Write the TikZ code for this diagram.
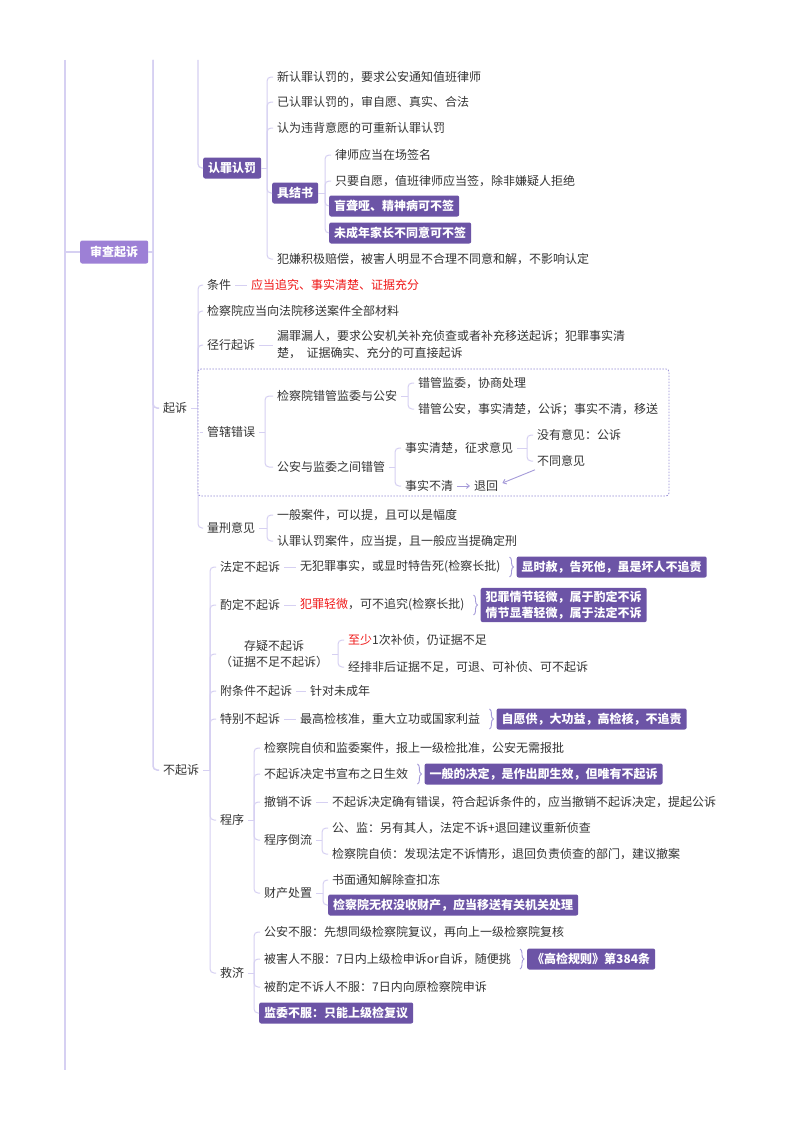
\documentclass[tikz,border=0pt]{standalone}
\usepackage{fontspec}
\setmainfont{Noto Sans CJK SC}
\usetikzlibrary{decorations.pathreplacing,arrows.meta,backgrounds}
\definecolor{lc}{RGB}{214,208,242}
\definecolor{dk}{RGB}{108,84,166}
\definecolor{lt}{RGB}{157,128,214}
\definecolor{tc}{RGB}{52,52,52}
\definecolor{rd}{RGB}{240,24,24}
\definecolor{dc}{RGB}{150,140,215}
\definecolor{ac}{RGB}{165,155,217}
\newcommand\myfs{\fontsize{12}{16}\selectfont}
\begin{document}
\begin{tikzpicture}[x=1pt,y=-1pt,
 tx/.style={anchor=west,inner xsep=4pt,inner ysep=1pt,xshift=-4pt,font=\myfs,text=tc},
 hbox/.style={anchor=west,fill=dk,text=white,font=\myfs\bfseries,rounded corners=2pt,inner xsep=5pt,inner ysep=2pt,minimum height=21pt},
 lnk/.style={draw=lc,line width=1pt},
 brk/.style={lnk,rounded corners=4pt},
 brc/.style={draw=ac,line width=0.9pt,decorate,decoration={brace,amplitude=4pt}},
 arw/.style={draw=ac,line width=0.9pt,-{Straight Barb[length=3pt,width=5pt]}},
 dbox/.style={draw=dc,line width=0.8pt,dash pattern=on 1.5pt off 1.5pt,rounded corners=3pt}
]
\useasboundingbox (0,0) rectangle (800,1132);

% ---------- nodes ----------
\node[hbox,fill=lt,inner xsep=10pt,minimum height=23pt] (sc) at (80,252) {审查起诉};
\node[tx] (qs) at (163,408) {起诉};
\node[tx] (bqs) at (163,770) {不起诉};

\node[hbox] (rz) at (203,168) {认罪认罚};
\node[tx] (r1) at (277,77) {新认罪认罚的，要求公安通知值班律师};
\node[tx] (r2) at (277,102) {已认罪认罚的，审自愿、真实、合法};
\node[tx] (r3) at (277,128) {认为违背意愿的可重新认罪认罚};
\node[hbox] (jj) at (272,193) {具结书};
\node[tx] (r5) at (277,259) {犯嫌积极赔偿，被害人明显不合理不同意和解，不影响认定};
\node[tx] (j1) at (335,155) {律师应当在场签名};
\node[tx] (j2) at (335,181) {只要自愿，值班律师应当签，除非嫌疑人拒绝};
\node[hbox] (j3) at (329,206) {盲聋哑、精神病可不签};
\node[hbox] (j4) at (329,233) {未成年家长不同意可不签};

\node[tx] (q1) at (207,285) {条件};
\node[tx,text=rd] (q1r) at (251,285) {应当追究、事实清楚、证据充分};
\node[tx] (q2) at (207,311) {检察院应当向法院移送案件全部材料};
\node[tx] (q3) at (207,345) {径行起诉};
\node[tx,align=left,font=\fontsize{12}{17}\selectfont] (q3r) at (277,345) {漏罪漏人，要求公安机关补充侦查或者补充移送起诉；犯罪事实清\\楚，\ \ 证据确实、充分的可直接起诉};
\node[tx] (q4) at (207,432) {管辖错误};
\node[tx] (q5) at (207,528) {量刑意见};
\node[tx] (g1) at (277,396) {检察院错管监委与公安};
\node[tx] (g2) at (277,467) {公安与监委之间错管};
\node[tx] (g11) at (418,383) {错管监委，协商处理};
\node[tx] (g12) at (418,409) {错管公安，事实清楚，公诉；事实不清，移送};
\node[tx] (g21) at (405,448) {事实清楚，征求意见};
\node[tx] (g22) at (405,486) {事实不清};
\node[tx] (g22r) at (474,486) {退回};
\node[tx] (g211) at (537,435) {没有意见：公诉};
\node[tx] (g212) at (537,461) {不同意见};
\node[tx] (l1) at (277,515) {一般案件，可以提，且可以是幅度};
\node[tx] (l2) at (277,541) {认罪认罚案件，应当提，且一般应当提确定刑};

\node[tx] (n1) at (220,567) {法定不起诉};
\node[tx] (n1r) at (300,567) {无犯罪事实，或显时特告死(检察长批)};
\node[hbox] (n1b) at ([xshift=12pt]n1r.east) {显时赦，告死他，虽是坏人不追责};
\node[tx] (n2) at (220,605) {酌定不起诉};
\node[tx] (n2r) at (300,605) {{\color{rd}犯罪轻微}，可不追究(检察长批)};
\node[hbox,align=left,inner ysep=3pt] (n2b) at ([xshift=12pt]n2r.east) {犯罪情节轻微，属于酌定不诉\\情节显著轻微，属于法定不诉};
\node[tx,align=center] (n3) at (220,654) {存疑不起诉\\（证据不足不起诉）};
\node[tx] (n31) at (348,640) {{\color{rd}至少}1次补侦，仍证据不足};
\node[tx] (n32) at (348,667) {经排非后证据不足，可退、可补侦、可不起诉};
\node[tx] (n4) at (220,691) {附条件不起诉};
\node[tx] (n4r) at (310,691) {针对未成年};
\node[tx] (n5) at (220,719) {特别不起诉};
\node[tx] (n5r) at (300,719) {最高检核准，重大立功或国家利益};
\node[hbox] (n5b) at ([xshift=12pt]n5r.east) {自愿供，大功益，高检核，不追责};
\node[tx] (n6) at (220,820) {程序};
\node[tx] (p1) at (264,748) {检察院自侦和监委案件，报上一级检批准，公安无需报批};
\node[tx] (p2) at (264,774) {不起诉决定书宣布之日生效};
\node[hbox] (p2b) at ([xshift=12pt]p2.east) {一般的决定，是作出即生效，但唯有不起诉};
\node[tx] (p3) at (264,802) {撤销不诉};
\node[tx] (p3r) at (332,802) {不起诉决定确有错误，符合起诉条件的，应当撤销不起诉决定，提起公诉};
\node[tx] (p4) at (264,840) {程序倒流};
\node[tx] (p41) at (332,828) {公、监：另有其人，法定不诉+退回建议重新侦查};
\node[tx] (p42) at (332,854) {检察院自侦：发现法定不诉情形，退回负责侦查的部门，建议撤案};
\node[tx] (p5) at (264,893) {财产处置};
\node[tx] (p51) at (332,880) {书面通知解除查扣冻};
\node[hbox] (p52) at (328,905) {检察院无权没收财产，应当移送有关机关处理};
\node[tx] (n7) at (220,973) {救济};
\node[tx] (s1) at (264,932) {公安不服：先想同级检察院复议，再向上一级检察院复核};
\node[tx] (s2) at (264,959) {被害人不服：7日内上级检申诉or自诉，随便挑};
\node[hbox] (s2b) at ([xshift=12pt]s2.east) {《高检规则》第384条};
\node[tx] (s3) at (264,987) {被酌定不诉人不服：7日内向原检察院申诉};
\node[hbox] (s4) at (259,1013) {监委不服：只能上级检复议};

% ---------- bracket coordinates ----------
\coordinate (topA) at (65,60);
\coordinate (botA) at (65,1070);
\coordinate (topB) at (153,60);
\coordinate (topC) at (198,60);
\coordinate (rzb) at (267,0);
\coordinate (jjb) at (325,0);
\coordinate (qsb) at (198,0);
\coordinate (gxb) at (265,0);
\coordinate (g1b) at (408,0);
\coordinate (g2b) at (395,0);
\coordinate (g21b) at (527,0);
\coordinate (lxb) at (267,0);
\coordinate (bqb) at (210,0);
\coordinate (n3b) at (338,0);
\coordinate (n6b) at (254,0);
\coordinate (p4b) at (322,0);
\coordinate (p5b) at (323,0);
\coordinate (n7b) at (254,0);

% ---------- background: 起诉 bracket and dashed frame ----------
\begin{scope}[on background layer]
\fill[white] (0,0) rectangle (800,1132);
\draw[lnk] (qs.east) -- (qs.east -| qsb);
\foreach \c in {q1,q2,q3,q4,q5} \draw[brk] (qs.east -| qsb) |- (\c.west);
\draw[dbox,fill=white] (198,369) rectangle (669,496);
\end{scope}
\draw[lnk] (q4.west -| qsb) ++(1.5,0) -- (q4.west);

% ---------- main connectors ----------
\draw[lnk,line width=2pt] (topA) -- (botA);
\draw[lnk,line width=1.5pt] (sc.west -| topA) -- (sc.west);
\draw[lnk,line width=1.5pt] (sc.east) -- (sc.east -| topB);
\draw[brk,line width=1.5pt] (topB) |- (qs.west);
\draw[brk,line width=1.5pt] (topB) |- (bqs.west);
\draw[brk,line width=1.2pt] (topC) |- (rz.west);

% 认罪认罚
\draw[lnk] (rz.east) -- (rz.east -| rzb);
\foreach \c in {r1,r2,r3,jj,r5} \draw[brk] (rz.east -| rzb) |- (\c.west);
\draw[lnk] (jj.east) -- (jj.east -| jjb);
\foreach \c in {j1,j2,j3,j4} \draw[brk] (jj.east -| jjb) |- (\c.west);

% 起诉 details
\draw[lnk] (q1.east) -- (q1r.west);
\draw[lnk] (q3.east) -- (q3r.west);
\draw[lnk] (q4.east) -- (q4.east -| gxb);
\foreach \c in {g1,g2} \draw[brk] (q4.east -| gxb) |- (\c.west);
\draw[lnk] (g1.east) -- (g1.east -| g1b);
\foreach \c in {g11,g12} \draw[brk] (g1.east -| g1b) |- (\c.west);
\draw[lnk] (g2.east) -- (g2.east -| g2b);
\foreach \c in {g21,g22} \draw[brk] (g2.east -| g2b) |- (\c.west);
\draw[lnk] (g21.east) -- (g21.east -| g21b);
\foreach \c in {g211,g212} \draw[brk] (g21.east -| g21b) |- (\c.west);
\draw[arw] (g22.east) -- (g22r.west);
\draw[arw] ([xshift=2pt,yshift=-2pt]g212.south west) -- ([yshift=3pt]g22r.east);
\draw[lnk] (q5.east) -- (q5.east -| lxb);
\foreach \c in {l1,l2} \draw[brk] (q5.east -| lxb) |- (\c.west);

% 不起诉
\draw[lnk] (bqs.east) -- (bqs.east -| bqb);
\foreach \c in {n1,n2,n3,n4,n5,n6,n7} \draw[brk] (bqs.east -| bqb) |- (\c.west);
\draw[lnk] (n1.east) -- (n1r.west);
\draw[brc] ([xshift=5pt,yshift=10pt]n1r.east) -- ([xshift=5pt,yshift=-10pt]n1r.east);
\draw[lnk] (n2.east) -- (n2r.west);
\draw[brc] ([xshift=5pt,yshift=10pt]n2r.east) -- ([xshift=5pt,yshift=-10pt]n2r.east);
\draw[lnk] (n3.east) -- (n3.east -| n3b);
\foreach \c in {n31,n32} \draw[brk] (n3.east -| n3b) |- (\c.west);
\draw[lnk] (n4.east) -- (n4r.west);
\draw[lnk] (n5.east) -- (n5r.west);
\draw[brc] ([xshift=5pt,yshift=10pt]n5r.east) -- ([xshift=5pt,yshift=-10pt]n5r.east);
\draw[lnk] (n6.east) -- (n6.east -| n6b);
\foreach \c in {p1,p2,p3,p4,p5} \draw[brk] (n6.east -| n6b) |- (\c.west);
\draw[brc] ([xshift=5pt,yshift=10pt]p2.east) -- ([xshift=5pt,yshift=-10pt]p2.east);
\draw[lnk] (p3.east) -- (p3r.west);
\draw[lnk] (p4.east) -- (p4.east -| p4b);
\foreach \c in {p41,p42} \draw[brk] (p4.east -| p4b) |- (\c.west);
\draw[lnk] (p5.east) -- (p5.east -| p5b);
\foreach \c in {p51,p52} \draw[brk] (p5.east -| p5b) |- (\c.west);
\draw[lnk] (n7.east) -- (n7.east -| n7b);
\foreach \c in {s1,s2,s3,s4} \draw[brk] (n7.east -| n7b) |- (\c.west);
\draw[brc] ([xshift=5pt,yshift=10pt]s2.east) -- ([xshift=5pt,yshift=-10pt]s2.east);
\end{tikzpicture}
\end{document}
